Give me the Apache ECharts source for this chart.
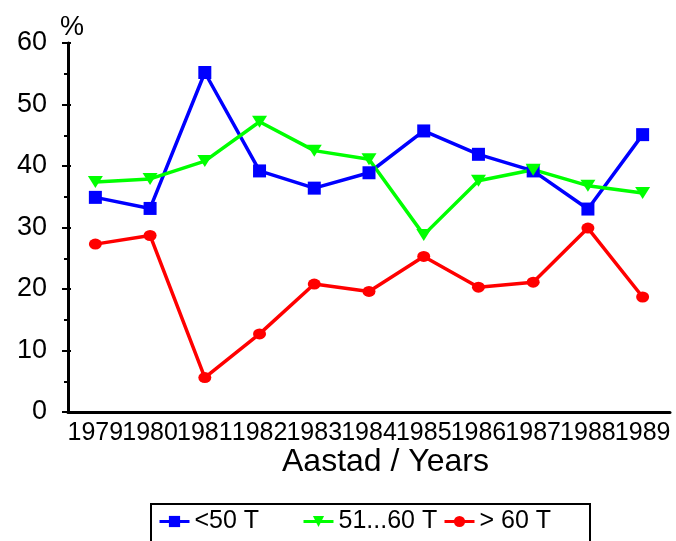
<!DOCTYPE html>
<html><head><meta charset="utf-8">
<script src="https://cdn.jsdelivr.net/npm/echarts@6/dist/echarts.min.js"></script>
<style>html,body{margin:0;padding:0;background:#fff}#c{width:676px;height:541px}</style>
</head><body><div id="c"></div>
<script>
var years = ['1979','1980','1981','1982','1983','1984','1985','1986','1987','1988','1989'];
var seriesNames = ['<50 T', '51...60 T', '> 60 T'];
var under50 = [34.9, 33.1, 55.2, 39.2, 36.4, 38.9, 45.7, 41.9, 39.2, 33.0, 45.1];
var from51to60 = [37.4, 37.9, 40.8, 47.2, 42.5, 41.1, 28.8, 37.6, 39.4, 36.8, 35.6];
var over60 = [27.3, 28.7, 5.6, 12.7, 20.8, 19.6, 25.3, 20.3, 21.1, 29.9, 18.7];
var yTicks = [0, 10, 20, 30, 40, 50, 60];

var FONT = 'Liberation Sans';
var chart = echarts.init(document.getElementById('c'));
function legendAt(name, left) {
  return {
    data: [name], left: left, top: 509, itemWidth: 30, itemHeight: 14, itemGap: 6,
    padding: 0, textStyle: { fontFamily: FONT, fontSize: 25, color: '#000', padding: [0,0,0,0] },
    lineStyle: { width: 3 },
    selectedMode: false
  };
}
var grid = { left: 68, right: 6, top: 43, bottom: 129 };
chart.setOption({
  animation: false,
  backgroundColor: '#fff',
  grid: grid,
  legend: [legendAt(seriesNames[0], 158), legendAt(seriesNames[1], 302), legendAt(seriesNames[2], 443)],
  xAxis: [{
    type: 'category', data: years, boundaryGap: true,
    axisLine: { lineStyle: { color: '#000', width: 3 } },
    axisTick: { alignWithLabel: true, inside: false, length: 8, lineStyle: { color: '#000', width: 2 } },
    axisLabel: { fontFamily: FONT, fontSize: 25, color: '#000', margin: 9, interval: 0 },
    splitLine: { show: false }
  }, {
    type: 'category', data: years, boundaryGap: true, position: 'bottom',
    axisLine: { show: false },
    axisTick: { alignWithLabel: true, inside: true, length: 7, lineStyle: { color: '#000', width: 2 } },
    axisLabel: { show: false }, splitLine: { show: false }
  }],
  yAxis: [{
    type: 'value', min: yTicks[0], max: yTicks[yTicks.length-1], interval: 10,
    axisLine: { show: true, lineStyle: { color: '#000', width: 3 } },
    axisTick: { show: true, inside: false, length: 6, lineStyle: { color: '#000', width: 2 } },
    minorTick: { show: true, splitNumber: 2, length: 4, lineStyle: { color: '#000', width: 2 } },
    axisLabel: { fontFamily: FONT, fontSize: 27, color: '#000', margin: 21 },
    splitLine: { show: false }
  }, {
    type: 'value', min: yTicks[0], max: yTicks[yTicks.length-1], interval: 10, position: 'left',
    axisLine: { show: false },
    axisTick: { show: true, inside: true, length: 3, lineStyle: { color: '#000', width: 2 } },
    minorTick: { show: false },
    axisLabel: { show: false }, splitLine: { show: false }
  }],
  graphic: [
    { type: 'text', left: 60, top: 14, style: { text: '%', fontFamily: FONT, fontSize: 27, fill: '#000' } },
    { type: 'text', left: 282, top: 446, style: { text: 'Aastad / Years', fontFamily: FONT, fontSize: 32, fill: '#000' } },
    { type: 'rect', shape: { x: 151, y: 504, width: 439, height: 60 }, style: { fill: 'none', stroke: '#000', lineWidth: 2 }, z: 100 }
  ],
  series: [{
    name: seriesNames[0], type: 'line', data: under50, symbol: 'rect', symbolSize: 13,
    itemStyle: { color: '#0000ff' }, lineStyle: { color: '#0000ff', width: 3.5 }
  }, {
    name: seriesNames[1], type: 'line', data: from51to60, symbol: 'triangle', symbolRotate: 180, symbolSize: [15, 12],
    itemStyle: { color: '#00ff00' }, lineStyle: { color: '#00ff00', width: 3.5 }
  }, {
    name: seriesNames[2], type: 'line', data: over60, symbol: 'circle', symbolSize: [13, 11],
    itemStyle: { color: '#ff0000' }, lineStyle: { color: '#ff0000', width: 3.5 }
  }]
});
</script></body></html>
